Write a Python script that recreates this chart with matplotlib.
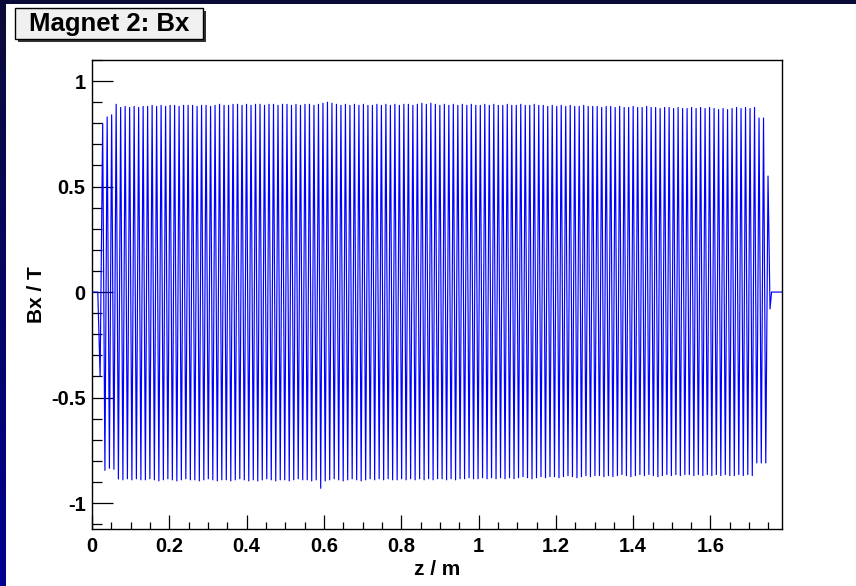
import numpy as np
import matplotlib
matplotlib.use("Agg")
import matplotlib.pyplot as plt
from matplotlib.patches import Rectangle
from matplotlib.colors import LinearSegmentedColormap
from matplotlib.ticker import MultipleLocator, FuncFormatter

plt.rcParams['font.family'] = ['Liberation Sans', 'DejaVu Sans']
plt.rcParams['font.weight'] = 'bold'

# --- data ------------------------------------------------------------------
# field before the first pole and after the last one
z_lead = [0.0, 0.015, 0.021]
bx_lead = [0.0, 0.0, -0.40]
z_tail = [1.754, 1.758, 1.785]
bx_tail = [-0.08, 0.0, 0.0]

# positive peaks (one per period), first at z_first, spaced by period
z_first = 0.0276
period = 0.01163
bx_top = [
    0.800, 0.830, 0.840, 0.890, 0.875, 0.880, 0.875, 0.880, 0.875, 0.880,
    0.880, 0.885, 0.880, 0.885, 0.880, 0.885, 0.885, 0.880, 0.885, 0.885,
    0.885, 0.880, 0.885, 0.885, 0.880, 0.885, 0.890, 0.885, 0.885, 0.890,
    0.890, 0.885, 0.890, 0.885, 0.890, 0.890, 0.885, 0.890, 0.890, 0.885,
    0.890, 0.890, 0.885, 0.890, 0.885, 0.890, 0.890, 0.885, 0.890, 0.895,
    0.900, 0.895, 0.890, 0.885, 0.890, 0.885, 0.890, 0.885, 0.890, 0.885,
    0.885, 0.890, 0.885, 0.890, 0.885, 0.890, 0.885, 0.890, 0.890, 0.885,
    0.890, 0.895, 0.890, 0.895, 0.890, 0.885, 0.890, 0.885, 0.890, 0.885,
    0.890, 0.885, 0.890, 0.885, 0.885, 0.890, 0.885, 0.890, 0.885, 0.885,
    0.890, 0.885, 0.885, 0.890, 0.885, 0.885, 0.890, 0.885, 0.885, 0.880,
    0.885, 0.880, 0.885, 0.880, 0.885, 0.880, 0.880, 0.885, 0.880, 0.880,
    0.880, 0.875, 0.880, 0.880, 0.875, 0.880, 0.875, 0.875, 0.880, 0.875,
    0.875, 0.880, 0.875, 0.875, 0.870, 0.875, 0.875, 0.870, 0.875, 0.870,
    0.870, 0.875, 0.870, 0.875, 0.870, 0.875, 0.870, 0.865, 0.870, 0.865,
    0.870, 0.875, 0.870, 0.875, 0.870, 0.875, 0.825, 0.825, 0.550,
]
# negative peaks, half a period after each positive one
bx_bot = [
    -0.845, -0.835, -0.840, -0.886, -0.890, -0.885, -0.890, -0.885, -0.890, -0.890,
    -0.885, -0.890, -0.895, -0.890, -0.885, -0.890, -0.895, -0.890, -0.885, -0.890,
    -0.890, -0.895, -0.890, -0.885, -0.890, -0.895, -0.890, -0.890, -0.895, -0.890,
    -0.885, -0.890, -0.895, -0.890, -0.895, -0.890, -0.885, -0.890, -0.895, -0.890,
    -0.890, -0.895, -0.890, -0.885, -0.890, -0.890, -0.895, -0.890, -0.930, -0.895,
    -0.890, -0.885, -0.890, -0.895, -0.890, -0.885, -0.890, -0.895, -0.890, -0.885,
    -0.890, -0.885, -0.890, -0.885, -0.890, -0.890, -0.885, -0.890, -0.885, -0.890,
    -0.885, -0.890, -0.885, -0.890, -0.885, -0.885, -0.890, -0.885, -0.890, -0.885,
    -0.885, -0.880, -0.885, -0.885, -0.880, -0.885, -0.880, -0.885, -0.880, -0.885,
    -0.880, -0.885, -0.880, -0.875, -0.880, -0.885, -0.880, -0.875, -0.880, -0.875,
    -0.875, -0.880, -0.875, -0.870, -0.875, -0.880, -0.875, -0.870, -0.875, -0.870,
    -0.870, -0.875, -0.870, -0.875, -0.870, -0.865, -0.870, -0.875, -0.870, -0.865,
    -0.870, -0.865, -0.870, -0.875, -0.870, -0.865, -0.870, -0.865, -0.870, -0.865,
    -0.865, -0.870, -0.865, -0.870, -0.865, -0.870, -0.865, -0.870, -0.865, -0.870,
    -0.870, -0.865, -0.870, -0.865, -0.870, -0.810, -0.810, -0.810,
]

x_ticklabels = ["0", "0.2", "0.4", "0.6", "0.8", "1", "1.2", "1.4", "1.6"]

# --- assemble the curve (alternating peaks) --------------------------------
n_top = len(bx_top)
z_top = z_first + period * np.arange(n_top)
z_bot = z_top[:len(bx_bot)] + period / 2
z_osc = np.empty(len(bx_top) + len(bx_bot))
bx_osc = np.empty_like(z_osc)
z_osc[0::2] = z_top
z_osc[1::2] = z_bot
bx_osc[0::2] = bx_top
bx_osc[1::2] = bx_bot
z = np.concatenate([z_lead, z_osc, z_tail])
bx = np.concatenate([bx_lead, bx_osc, bx_tail])

# --- figure ------------------------------------------------------------------
W, H = 856, 586
fig = plt.figure(figsize=(W / 100, H / 100), dpi=100)

bg = fig.add_axes([0, 0, 1, 1])
bg.set_axis_off()
cmap = LinearSegmentedColormap.from_list("frame", ["#0b0b38", "#000090"])
bg.imshow(np.linspace(0, 1, 256).reshape(-1, 1), aspect="auto", cmap=cmap,
          extent=[0, 1, 0, 1])
bg.set_xlim(0, 1)
bg.set_ylim(0, 1)
bg.add_patch(Rectangle((6 / W, 0), 1, 1 - 4 / H, facecolor="white",
                       edgecolor="none"))

# title box with shadow
bx0, by0, bw, bh = 15, 8, 188, 31
bg.add_patch(Rectangle(((bx0 + 3) / W, 1 - (by0 + bh + 3) / H), bw / W, bh / H,
                       facecolor="#333333", edgecolor="none"))
bg.add_patch(Rectangle((bx0 / W, 1 - (by0 + bh) / H), bw / W, bh / H,
                       facecolor="#f0f0f0", edgecolor="black", linewidth=1.0))
bg.text((bx0 + bw / 2) / W, 1 - (by0 + bh / 2) / H, "Magnet 2: Bx",
        ha="center", va="center", fontsize=18.5, fontweight="bold")

ax = fig.add_axes([92 / W, 1 - 529 / H, 690 / W, 469 / H])
ax.plot(z, bx, color="#0000ff", linewidth=0.85)

ax.set_xlim(0, 1.785)
ax.set_ylim(-1.123, 1.10)

ax.xaxis.set_major_locator(MultipleLocator(0.2))
ax.xaxis.set_minor_locator(MultipleLocator(0.05))
ax.yaxis.set_major_locator(MultipleLocator(0.5))
ax.yaxis.set_minor_locator(MultipleLocator(0.1))
ax.set_xticks(np.arange(len(x_ticklabels)) * 0.2)
ax.set_xticklabels(x_ticklabels)
ax.yaxis.set_major_formatter(FuncFormatter(lambda v, p: "%g" % v))

ax.tick_params(axis="x", which="major", direction="in", length=10, width=0.9,
               pad=6, labelsize=14.5, top=False)
ax.tick_params(axis="x", which="minor", direction="in", length=5, width=0.9,
               top=False)
ax.tick_params(axis="y", which="major", direction="in", length=15, width=0.9,
               pad=4.5, labelsize=14.5, right=False)
ax.tick_params(axis="y", which="minor", direction="in", length=7.5, width=0.9,
               right=False)
for lab in ax.get_xticklabels() + ax.get_yticklabels():
    lab.set_fontweight("bold")
for sp in ax.spines.values():
    sp.set_linewidth(1.0)

ax.set_xlabel("z / m", fontsize=15, fontweight="bold")
ax.set_ylabel("Bx / T", fontsize=15, fontweight="bold")
ax.xaxis.set_label_coords(0.5, -0.066)
ax.yaxis.set_label_coords(-0.066, 0.5)

fig.savefig("out.png", dpi=100)
